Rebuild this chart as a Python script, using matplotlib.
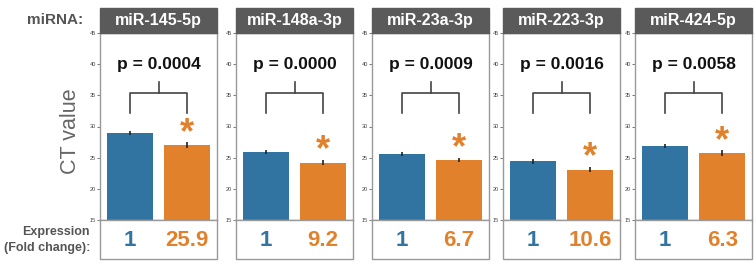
import numpy as np
import matplotlib.pyplot as plt
from matplotlib.patches import Rectangle

plt.rcParams['font.family'] = ['Liberation Sans', 'DejaVu Sans']

mirnas = ['miR-145-5p', 'miR-148a-3p', 'miR-23a-3p', 'miR-223-3p', 'miR-424-5p']
ct_ctrl = [29.0, 25.9, 25.6, 24.4, 26.9]
ct_case = [27.0, 24.2, 24.6, 23.1, 25.7]
err_ctrl = [0.35, 0.3, 0.3, 0.35, 0.3]
err_case = [0.45, 0.45, 0.35, 0.4, 0.45]
p_values = ['0.0004', '0.0000', '0.0009', '0.0016', '0.0058']
fold_change = ['25.9', '9.2', '6.7', '10.6', '6.3']

blue = '#3274a1'
orange = '#e1812c'
W, H = 756, 267

fig = plt.figure(figsize=(7.56, 2.67), dpi=100)

lefts = [100, 236, 372, 503, 635]
pw = 117
top, bottom = 33, 220

for i, name in enumerate(mirnas):
    x0 = lefts[i]
    ax = fig.add_axes([x0 / W, 1 - bottom / H, pw / W, (bottom - top) / H])
    ax.bar([0, 1], [ct_ctrl[i], ct_case[i]], width=0.8, color=[blue, orange],
           yerr=[err_ctrl[i], err_case[i]], error_kw=dict(ecolor='#222222', elinewidth=1.2, capsize=0))
    ax.set_ylim(15, 45)
    ax.set_xlim(-0.52, 1.52)
    ax.set_xticks([])
    ax.set_yticks(range(15, 46, 5))
    ax.tick_params(axis='y', labelsize=4, length=2, width=0.5, pad=1, colors='#444444')
    for s in ax.spines.values():
        s.set_color('#999999')
        s.set_linewidth(1)
    # bracket
    ax.plot([0, 0, 1, 1], [32.1, 35.4, 35.4, 32.1], color='#444444', lw=1.2)
    ax.plot([0.5, 0.5], [35.4, 37.1], color='#444444', lw=1.2)
    ax.text(0.5, 40, 'p = ' + p_values[i], ha='center', va='center',
            fontsize=12.5, fontweight='bold', color='#111111')
    ax.text(1, ct_case[i] + 1.9, '*', ha='center', va='center',
            fontsize=26, fontweight='bold', color=orange)

    # header
    fig.patches.append(Rectangle((x0 / W, 1 - top / H), pw / W, 25 / H,
                                 transform=fig.transFigure, facecolor='#5a5a5a',
                                 edgecolor='#5a5a5a', lw=1))
    fig.text((x0 + pw / 2) / W, 1 - 20.5 / H, name, ha='center', va='center',
             color='white', fontsize=11.5, fontweight='bold')

    # expression box
    fig.patches.append(Rectangle((x0 / W, 1 - 259 / H), pw / W, 39 / H,
                                 transform=fig.transFigure, facecolor='white',
                                 edgecolor='#999999', lw=1))
    ax_w = pw / 2.04
    fig.text((x0 + 0.52 * ax_w) / W, 1 - 241 / H, '1', ha='center', va='center',
             color=blue, fontsize=16, fontweight='bold')
    fig.text((x0 + 1.52 * ax_w) / W, 1 - 241 / H, fold_change[i], ha='center', va='center',
             color=orange, fontsize=16, fontweight='bold')

fig.text(83 / W, 1 - 20 / H, 'miRNA:', ha='right', va='center',
         fontsize=11, fontweight='bold', color='#555555')
fig.text(90 / W, 1 - 240 / H, 'Expression\n(Fold change):', ha='right', va='center',
         fontsize=9, fontweight='bold', color='#555555', linespacing=1.4)
fig.text(71 / W, 1 - 131 / H, 'CT value', ha='center', va='center', rotation=90,
         fontsize=15.5, color='#666666')

fig.savefig('out.png', dpi=100)
